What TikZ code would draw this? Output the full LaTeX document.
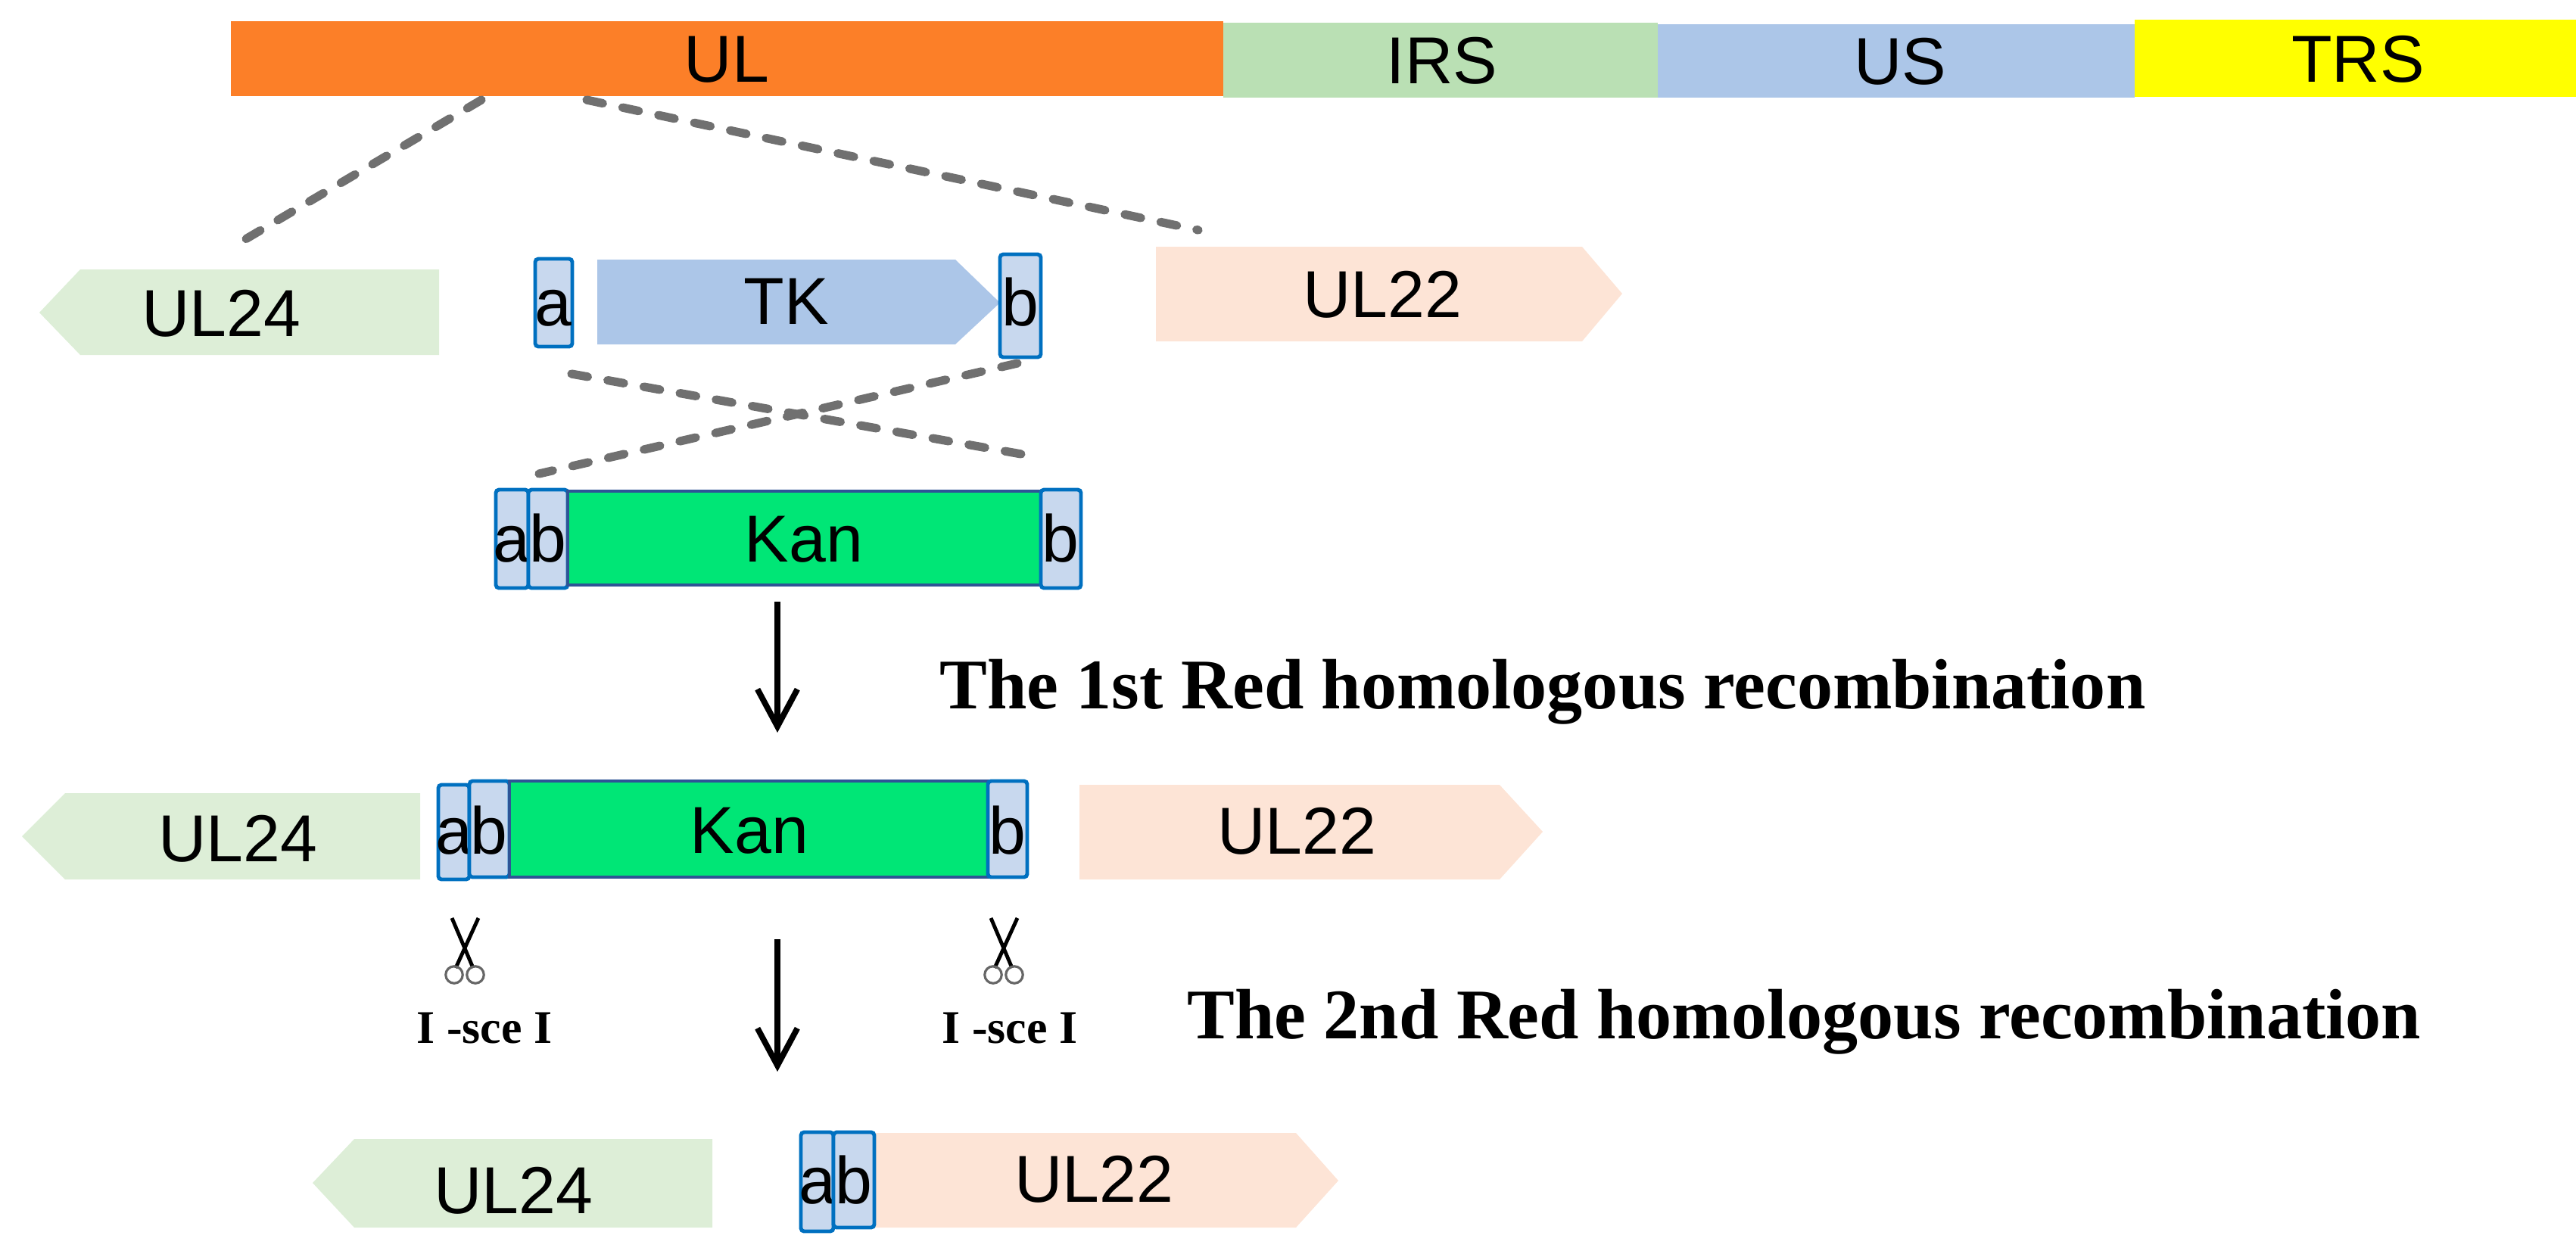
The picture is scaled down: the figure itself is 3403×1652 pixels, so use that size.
\documentclass[tikz,border=0pt]{standalone}
\usepackage{fontspec}
\setmainfont{Liberation Serif}
\setsansfont{Liberation Sans}
\usepackage{xcolor}
\usetikzlibrary{arrows.meta}

\definecolor{ulorange}{RGB}{252,127,40}
\definecolor{irsgreen}{RGB}{186,224,180}
\definecolor{usblue}{RGB}{172,198,232}
\definecolor{trsyellow}{RGB}{255,255,0}
\definecolor{ulfour}{RGB}{221,238,215}
\definecolor{ultwo}{RGB}{253,228,214}
\definecolor{homfill}{RGB}{200,216,238}
\definecolor{homline}{RGB}{0,112,192}
\definecolor{kangreen}{RGB}{0,230,118}
\definecolor{kanline}{RGB}{46,84,150}
\definecolor{cutgray}{RGB}{112,112,112}

\begin{document}
\begin{tikzpicture}[x=0.005cm,y=-0.005cm,
	lbl/.style={font=\sffamily\fontsize{12.5}{15}\selectfont, inner sep=0pt, anchor=base},
	hom/.style={fill=homfill, draw=homline, line width=0.7pt, rounded corners=0.6pt},
	kan/.style={fill=kangreen, draw=kanline, line width=0.5pt},
	cut/.style={draw=cutgray, line width=1.6pt, line cap=round, dash pattern=on 3.1pt off 3.8pt},
	flow/.style={line width=1.1pt, -{Straight Barb[length=7pt,width=7.5pt]}},
	recomb/.style={font=\bfseries\fontsize{13.4}{16}\selectfont, inner sep=0pt, anchor=base west},
	enz/.style={font=\bfseries\fontsize{8.8}{10}\selectfont, inner sep=0pt, anchor=base},
	blade/.style={line width=0.7pt},
	ring/.style={draw=black!60, line width=0.45pt}]
	\useasboundingbox (0,0) rectangle (3403,1652);

	\fill[ulorange] (305,28) rectangle (1616,127);
	\fill[irsgreen] (1616,30) rectangle (2190,129);
	\fill[usblue] (2190,32) rectangle (2820,129);
	\fill[trsyellow] (2820,26) rectangle (3403,128);
	\node[lbl] (UL) at (960,108) {UL};
	\node[lbl] (IRS) at (1905,110) {IRS};
	\node[lbl] (US) at (2510,111) {US};
	\node[lbl] (TRS) at (3115,108) {TRS};

	\coordinate (ulL) at (636,132);
	\coordinate (ulR) at (775,132);
	\coordinate (ul24top) at (321,318);
	\coordinate (ul22top) at (1583,304);
	\draw[cut] (ulL) -- (ul24top);
	\draw[cut] (ulR) -- (ul22top);

	\fill[ulfour] (52,413) -- (106,356) -- (580,356) -- (580,469) -- (106,469) -- cycle;
	\node[lbl] (ul24a) at (292,444) {UL24};
	\draw[hom] (707,342) rectangle (756,458);
	\node[lbl] (a1) at (731,430) {a};
	\fill[usblue] (789,343) -- (1262,343) -- (1321,400) -- (1262,455) -- (789,455) -- cycle;
	\node[lbl] (tk) at (1039,428) {TK};
	\draw[hom] (1321,336) rectangle (1375,472);
	\node[lbl] (b1) at (1348,430) {b};
	\fill[ultwo] (1527,326) -- (2090,326) -- (2143,388) -- (2090,451) -- (1527,451) -- cycle;
	\node[lbl] (ul22a) at (1826,419) {UL22};

	\coordinate (xa) at (755,494);
	\coordinate (xb) at (1366,603);
	\coordinate (xc) at (1344,480);
	\coordinate (xd) at (712,626);
	\draw[cut] (xa) -- (xb);
	\draw[cut] (xc) -- (xd);

	\draw[hom] (655,647) rectangle (698,777);
	\node[lbl] (a2) at (676,742) {a};
	\draw[hom] (698,647) rectangle (750,777);
	\node[lbl] (b2) at (724,742) {b};
	\draw[kan] (750,649) rectangle (1375,773);
	\node[lbl] (kan2) at (1062,742) {Kan};
	\draw[hom] (1375,647) rectangle (1428,777);
	\node[lbl] (b3) at (1401,742) {b};

	\coordinate (s1) at (1027,795);
	\coordinate (e1) at (1027,968);
	\draw[flow] (s1) -- (e1);
	\node[recomb] (red1) at (1240,936) {The 1st Red homologous recombination};

	\fill[ulfour] (29,1105) -- (86,1048) -- (555,1048) -- (555,1162) -- (86,1162) -- cycle;
	\node[lbl] (ul24b) at (314,1138) {UL24};
	\draw[hom] (579,1037) rectangle (620,1162);
	\node[lbl] (a3) at (600,1128) {a};
	\draw[hom] (620,1032) rectangle (673,1159);
	\node[lbl] (b4) at (646,1128) {b};
	\draw[kan] (673,1032) rectangle (1305,1159);
	\node[lbl] (kan4) at (990,1127) {Kan};
	\draw[hom] (1305,1032) rectangle (1357,1159);
	\node[lbl] (b5) at (1331,1128) {b};
	\fill[ultwo] (1426,1037) -- (1981,1037) -- (2038,1099) -- (1981,1162) -- (1426,1162) -- cycle;
	\node[lbl] (ul22b) at (1713,1128) {UL22};

	\draw[blade] (597,1213) -- (625,1279);
	\draw[blade] (632,1213) -- (602,1279);
	\draw[ring] (600,1288) circle (1.6pt);
	\draw[ring] (628,1288) circle (1.6pt);
	\node[enz] (sceL) at (640,1378) {I -sce I};
	\draw[blade] (1309,1213) -- (1337,1279);
	\draw[blade] (1344,1213) -- (1314,1279);
	\draw[ring] (1312,1288) circle (1.6pt);
	\draw[ring] (1340,1288) circle (1.6pt);
	\node[enz] (sceR) at (1334,1378) {I -sce I};

	\coordinate (s2) at (1027,1241);
	\coordinate (e2) at (1027,1416);
	\draw[flow] (s2) -- (e2);
	\node[recomb] (red2) at (1567,1372) {The 2nd Red homologous recombination};

	\fill[ulfour] (413,1563) -- (468,1505) -- (941,1505) -- (941,1622) -- (468,1622) -- cycle;
	\node[lbl] (ul24c) at (678,1603) {UL24};
	\fill[ultwo] (1155,1497) -- (1712,1497) -- (1768,1560) -- (1712,1622) -- (1155,1622) -- cycle;
	\node[lbl] (ul22c) at (1445,1588) {UL22};
	\draw[hom] (1058,1496) rectangle (1101,1627);
	\node[lbl] (a4) at (1080,1590) {a};
	\draw[hom] (1101,1496) rectangle (1155,1622);
	\node[lbl] (b6) at (1128,1590) {b};
\end{tikzpicture}
\end{document}
